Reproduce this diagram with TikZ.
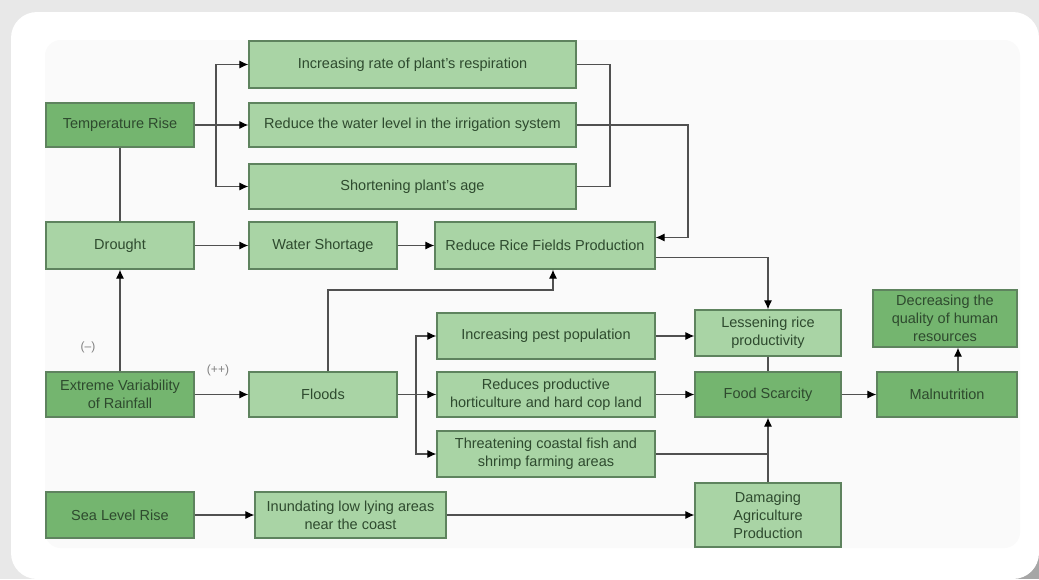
\documentclass[tikz,border=0pt]{standalone}
\usepackage{fontspec}
\setmainfont{Liberation Sans}
\usetikzlibrary{arrows.meta}
\definecolor{light}{HTML}{A9D4A5}
\definecolor{dark}{HTML}{74B56F}
\definecolor{edge}{HTML}{5E835E}
\definecolor{txt}{HTML}{2E4A2E}
\definecolor{wire}{HTML}{505050}
\newcommand{\boxfont}{\fontsize{14.5}{18}\selectfont}

\begin{document}
\begin{tikzpicture}[x=1pt,y=-1pt]
        \tikzstyle{every node}=[font=\boxfont,text=txt]
        \tikzstyle{box}=[draw=edge,fill=light,line width=1.2pt,align=center,inner sep=2pt]
        \tikzstyle{dbox}=[box,fill=dark]
        \tikzstyle{wire}=[draw=wire,line width=1.1pt]
        \tikzstyle{arr}=[wire,-{Latex[length=9pt,width=8pt,black]}]

        % card and page
        \useasboundingbox (0,0) rectangle (1039,579);
        \fill[gray!18] (0,0) rectangle (1039,579);
        \fill[gray!70] (1005,545) rectangle (1039,579);
        \fill[white,rounded corners=26pt] (11,12) rectangle (1039,579);
        \fill[gray!4,rounded corners=16pt] (45,40) rectangle (1020,548);

        \begin{scope}
               % causes
               \node[dbox,minimum width=148pt,minimum height=44pt] (temp) at (120,125) {Temperature Rise};
               \node[box,minimum width=148pt,minimum height=47pt] (drought) at (120,245.5) {Drought};
               \node[dbox,minimum width=148pt,minimum height=45pt] (rain) at (120,394.5) {Extreme Variability\\of Rainfall};
               \node[dbox,minimum width=148pt,minimum height=46pt] (sea) at (120,515) {Sea Level Rise};

               % effects of heat
               \node[box,minimum width=327pt,minimum height=47pt] (resp) at (412.5,64.5) {Increasing rate of plant's respiration};
               \node[box,minimum width=327pt,minimum height=44pt] (irrig) at (412.5,125) {Reduce the water level in the irrigation system};
               \node[box,minimum width=327pt,minimum height=45pt] (age) at (412.5,186.5) {Shortening plant's age};

               \node[box,minimum width=148pt,minimum height=47pt] (water) at (323,245.5) {Water Shortage};
               \node[box,minimum width=220pt,minimum height=47pt] (rice) at (545,245.5) {Reduce Rice Fields Production};

               % effects of floods
               \node[box,minimum width=148pt,minimum height=45pt] (flood) at (323,394.5) {Floods};
               \node[box,minimum width=218pt,minimum height=46pt] (pest) at (546,336) {Increasing pest population};
               \node[box,minimum width=218pt,minimum height=45pt] (horti) at (546,394.5) {Reduces productive\\horticulture and hard cop land};
               \node[box,minimum width=218pt,minimum height=46pt] (fish) at (546,454) {Threatening coastal fish and\\shrimp farming areas};
               \node[box,minimum width=191pt,minimum height=46pt] (inund) at (350.5,515) {Inundating low lying areas\\near the coast};

               % outcomes
               \node[box,minimum width=146pt,minimum height=46pt] (lessen) at (768,333) {Lessening rice\\productivity};
               \node[dbox,minimum width=146pt,minimum height=45pt] (food) at (768,394.5) {Food Scarcity};
               \node[box,minimum width=146pt,minimum height=64pt] (agri) at (768,515) {Damaging\\Agriculture\\Production};
               \node[dbox,minimum width=140pt,minimum height=45pt] (malnut) at (947,394.5) {Malnutrition};
               \node[dbox,minimum width=144pt,minimum height=57pt] (human) at (945,318.5) {Decreasing the\\quality of human\\resources};

               \node[text=gray,font=\fontsize{12}{14}\selectfont] (minus) at (88,347) {(--)};
               \node[text=gray,font=\fontsize{12}{14}\selectfont] (plus) at (218,370) {(++)};

               \coordinate (tsplit) at (216,125);
               \coordinate (rjoin) at (610,125);
               \coordinate (fsplit) at (416,394.5);

               % heat branch
               \draw[arr] (temp.east) -- (irrig.west);
               \draw[arr] (tsplit) |- (resp.west);
               \draw[arr] (tsplit) |- (age.west);
               \draw[wire] (temp.south) -- (drought.north);
               \draw[wire] (resp.east) -| (rjoin);
               \draw[wire] (age.east) -| (rjoin);
               \draw[arr] (irrig.east) -| (688,180) |- ([yshift=8pt]rice.east);

               \draw[arr] (rain.north) -- (drought.south);
               \draw[arr] (drought.east) -- (water.west);
               \draw[arr] (water.east) -- (rice.west);
               \draw[arr] ([yshift=-12pt]rice.east) -| (lessen.north);

               % flood branch
               \draw[arr] (rain.east) -- (flood.west);
               \draw[arr] ([xshift=5pt]flood.north) |- (440,290) -| ([xshift=8pt]rice.south);
               \draw[wire] (flood.east) -- (fsplit);
               \draw[arr] (fsplit) |- (pest.west);
               \draw[arr] (fsplit) -- (horti.west);
               \draw[arr] (fsplit) |- (fish.west);
               \draw[arr] (pest.east) -- (pest.east -| lessen.west);
               \draw[arr] (horti.east) -- (food.west);
               \draw[wire] (fish.east) -- (fish.east -| agri.north);
               \draw[wire] (lessen.south) -- (food.north);
               \draw[arr] (agri.north) -- (food.south);

               \draw[arr] (sea.east) -- (inund.west);
               \draw[arr] (inund.east) -- (agri.west);
               \draw[arr] (food.east) -- (malnut.west);
               \draw[arr] ([xshift=11pt]malnut.north) -- ([xshift=11pt]malnut.north |- human.south);
         \end{scope}
\end{tikzpicture}
\end{document}
